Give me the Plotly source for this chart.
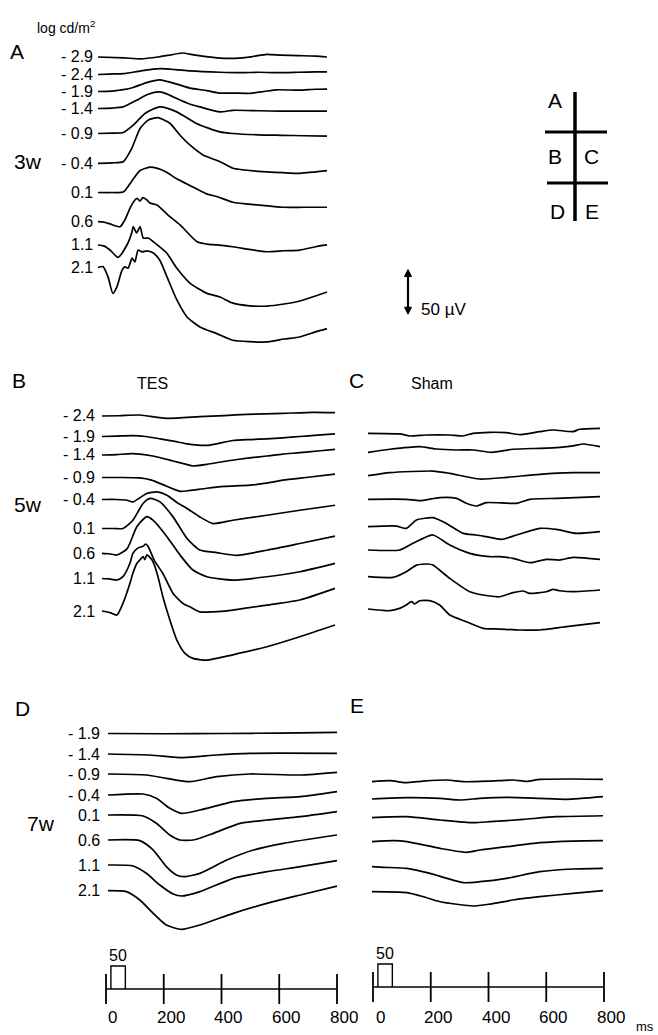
import plotly.graph_objects as go

W, H = 658, 1035
K = 44.7 / 50.0          # pixels per microvolt (from the 50 µV scale bar)
FONT = "Liberation Sans, Arial, Helvetica, sans-serif"

# ---------------- data: (time in ms, amplitude in µV relative to baseline) -------------
# Panel A : 3 weeks
A_labels = ["- 2.9", "- 2.4", "- 1.9", "- 1.4", "- 0.9", "- 0.4", "0.1", "0.6", "1.1", "2.1"]
A_m2_9 = [(0, 0), (90, -1), (150, -2), (210, 0), (250, 2), (293, 4.5), (340, 2), (415, -1), (480, -1.5),
          (540, 0.5), (590, 3), (640, 2), (700, 1.5), (760, 1), (800, 0)]
A_m2_4 = [(0, 0), (40, 0.5), (90, 1), (150, 4), (216, 6.5), (270, 5.5), (321, 4), (426, 2.5), (500, 2),
          (560, 2.5), (625, 2), (700, 2.5), (760, 3), (800, 3)]
A_m1_9 = [(0, 0), (50, 0.5), (88, 2), (123, 4.5), (170, 10), (216, 13), (275, 8.3), (321, 3.8), (380, 1),
          (426, -1.8), (471, -1.8), (530, -2), (580, 0), (625, 1.9), (700, 1.5), (760, 2.5), (800, 2.7)]
A_m1_4 = [(0, 0), (50, 0.5), (88, 1.8), (135, 9.3), (175, 16), (216, 18.6), (250, 15), (275, 11.2), (320, 5),
          (356, 1.8), (426, -3.8), (471, -2), (560, -2.5), (640, -3), (720, -3), (800, -3)]
A_m0_9 = [(0, 0), (50, 0.5), (88, 1.1), (123, 9.3), (164, 22.4), (216, 29.8), (275, 24.2), (344, 11.2),
          (426, 1.8), (471, 0), (560, -1.5), (640, -2), (720, -2.5), (800, -3)]
A_m0_4 = [(0, 0), (50, 0.5), (88, 1.8), (118, 16.8), (147, 39), (176, 48.5), (210, 51), (251, 44.8),
          (286, 31.7), (321, 20.5), (367, 9.3), (426, 1.8), (471, -5.5), (560, -9), (646, -10.5),
          (705, -11.2), (760, -9.5), (800, -8.3)]
A_p0_1 = [(0, 0), (50, 0), (88, 0.5), (123, 15), (147, 24.6), (181, 28.3), (205, 27.2), (240, 22.7),
          (275, 15.3), (321, 7.8), (379, -1.5), (420, -5), (471, -10.9), (560, -14), (646, -16.5),
          (720, -16.5), (800, -16.5)]
A_p0_6 = [(0, 0), (20, -0.5), (42, -2.5), (77, -5.6), (94, 2), (112, 15.3), (129, 24.3), (136, 26.2),
          (147, 23.2), (157, 27), (171, 24.3), (181, 21), (206, 18.7), (251, 5.6), (286, -3.4),
          (346, -22.4), (380, -25), (415, -26), (471, -28), (530, -31), (590, -33.6), (650, -32.5),
          (705, -31.7), (760, -28), (800, -26)]
A_p1_1 = [(0, 0), (20, -1), (42, -5.6), (70, -13.8), (101, 0), (119, 14.9), (123, 20.5), (135, 13.4),
          (147, 20.5), (158, 7.8), (176, 7.8), (193, 3.7), (240, -9), (275, -25.8), (321, -42.6),
          (379, -53.8), (426, -58.2), (471, -65), (530, -68), (590, -68.3), (650, -66), (705, -62.7),
          (760, -57), (800, -52.6)]
A_p2_1 = [(0, 0), (17, 1), (35, -10.5), (52, -29), (66, -21.7), (84, -3), (94, 0.7), (105, -0.8),
          (119, 10.4), (129, 6.3), (140, 19.4), (154, 17.5), (171, 18.6), (192, 16.4), (216, 8.2),
          (241, -10.5), (276, -36.6), (311, -55.3), (356, -66.5), (415, -74), (471, -81.4), (530, -83),
          (590, -83.3), (650, -80), (705, -77.7), (760, -72), (800, -68.3)]

# Panel B : 5 weeks, TES
B_labels = ["- 2.4", "- 1.9", "- 1.4", "- 0.9", "- 0.4", "0.1", "0.6", "1.1", "2.1"]
B_m2_4 = [(0, 0), (60, 0.3), (130, 1.1), (222, -2.6), (336, -0.7), (420, 0.5), (497, 1.9), (621, 3),
          (725, 4.1), (800, 3.7)]
B_m1_9 = [(0, 0), (50, 0.5), (106, 1), (150, 0), (199, -2.6), (250, -5.5), (292, -8.2), (360, -10),
          (394, -8.2), (449, -4.5), (510, -3.4), (566, -2.6), (620, -1.5), (679, 0), (740, 1.5), (800, 3)]
B_m1_4 = [(0, 0), (50, 0.5), (106, 1.5), (175, -1.1), (244, -6.7), (290, -10.5), (312, -12.3), (360, -10.4),
          (429, -6.7), (500, -3.5), (566, -1.1), (620, 1), (679, 2.6), (740, 4.5), (800, 6.4)]
B_m0_9 = [(0, 0), (60, 0), (130, -0.5), (170, -3), (209, -8), (268, -15.5), (302, -14.5), (360, -12),
          (420, -10), (508, -8.6), (570, -6), (621, -3), (700, 0), (800, 3.7)]
B_m0_4 = [(0, 0), (50, 0), (86, -0.8), (106, -2.7), (130, 2), (154, 6.7), (189, 8.5), (223, 4.8),
          (260, -4), (292, -10), (336, -19.5), (381, -26.9), (449, -23.2), (566, -17.6), (679, -12),
          (800, -6.4)]
B_p0_1 = [(0, 0), (40, 0), (72, 0), (106, 9.3), (141, 28), (165, 33.6), (199, 29.8), (244, 13),
          (292, -11.2), (336, -24), (394, -27), (463, -30), (566, -24.3), (679, -16.8), (800, -8.6)]
B_p0_6 = [(0, 0), (25, -0.5), (51, -1.9), (86, 5), (120, 30), (154, 41), (175, 37), (223, 18.6),
          (268, -2), (312, -18.7), (360, -26.2), (449, -29.9), (566, -26.2), (679, -20.6), (800, -11.2)]
B_p1_1 = [(0, 0), (25, -0.5), (51, -1.7), (72, 2), (96, 17), (106, 28), (123, 34), (141, 36),
          (150, 38.5), (158, 36), (180, 20), (209, 5.6), (244, -16.8), (278, -28), (302, -31.7),
          (336, -37.3), (381, -37.3), (449, -35.3), (566, -29.7), (679, -24), (800, -11)]
B_p2_1 = [(0, 0), (27, -1.8), (51, -4.5), (72, 8.6), (96, 31), (106, 42.2), (120, 53.4), (130, 57),
          (141, 60.8), (147, 57.5), (154, 62.7), (172, 57), (189, 42.2), (209, 16), (233, -10),
          (257, -32.5), (285, -47.4), (312, -53), (360, -55), (449, -49), (566, -40), (679, -28.8),
          (800, -15.7)]

# Panel C : 5 weeks, Sham (same intensities -1.9 ... 2.1)
C_1 = [(0, 0), (109, -0.7), (144, -3), (201, -1.9), (282, -1.9), (328, -3), (362, 0), (420, 1.1),
       (477, 0.7), (523, -1.5), (592, 1.9), (638, 3.7), (707, 1.9), (730, 4.5), (800, 5.6)]
C_2 = [(0, 0), (75, 3.4), (178, 6.3), (236, 3.7), (305, 2.6), (362, 2.6), (426, 0), (500, 3.4),
       (592, 4.5), (661, 5.6), (707, 7.1), (742, 9.3), (800, 6.3)]
C_3 = [(0, 0), (75, 3.4), (224, 5.2), (282, 2.6), (385, -3.7), (477, -1.9), (592, 1.5), (707, 3.4),
       (800, 3.4)]
C_4 = [(0, 0), (132, 0), (178, -1.5), (247, 1.9), (305, 1.1), (339, -4.5), (374, -7.5), (408, -3.7),
       (512, -4.5), (558, 0), (650, 1.1), (800, 3)]
C_5 = [(0, 0), (98, 0.7), (132, -1.9), (167, 7.5), (224, 10.1), (270, 3.7), (328, -7.5), (374, -9.3),
       (408, -11.2), (460, -14.2), (512, -9.3), (592, -1.9), (650, -3), (719, -7.5), (800, -5.6)]
C_6 = [(0, 0), (109, 0), (144, 5.6), (178, 11.2), (224, 16.8), (282, 5.6), (351, -3.7), (420, -7.5),
       (454, -7.5), (500, -9.3), (558, -14.2), (615, -10.4), (661, -11.2), (707, -8.2), (800, -10.4)]
C_7 = [(0, 0), (86, -0.7), (132, 5.6), (167, 13), (207, 14.2), (224, 13), (282, -1.9), (351, -16.8),
       (420, -21.6), (454, -22.4), (500, -17.9), (535, -16), (558, -18.7), (615, -16.8), (638, -14.2),
       (661, -15.7), (707, -16.8), (800, -14.9)]
C_8 = [(0, 0), (75, -1.9), (109, 0.7), (132, 4.5), (150, 8.2), (161, 5.6), (178, 9.3), (213, 9.3),
       (247, 4.5), (282, -6.7), (339, -14.2), (397, -21.6), (454, -22.4), (523, -23.5), (592, -23.5),
       (684, -19.8), (800, -15.3)]

# Panel D : 7 weeks, TES
D_labels = ["- 1.9", "- 1.4", "- 0.9", "- 0.4", "0.1", "0.6", "1.1", "2.1"]
D_m1_9 = [(0, 0), (200, -0.3), (400, 0), (600, 0.5), (800, 1.2)]
D_m1_4 = [(0, 0), (146, -1.1), (263, -4.1), (380, -1.1), (496, 0.7), (800, 0.7)]
D_m0_9 = [(0, 0), (134, -1.1), (204, -4.8), (286, -8.6), (380, -3), (496, 0), (672, -1.1), (800, 1.9)]
D_m0_4 = [(0, 0), (123, 1.1), (169, -3.7), (216, -14.9), (257, -20.5), (321, -16.8), (438, -7.5),
          (555, -3.7), (672, -1.9), (800, 3.7)]
D_p0_1 = [(0, 0), (123, -1.1), (169, -9.3), (216, -22.4), (251, -28), (298, -28), (368, -20.5),
          (461, -9.3), (555, -5.6), (672, -1.9), (800, 3.7)]
D_p0_6 = [(0, 0), (111, -0.7), (158, -11.2), (204, -29.8), (239, -39.2), (265, -41), (321, -37.3),
          (415, -22.4), (508, -11.2), (613, -3.7), (800, 5.6)]
D_p1_1 = [(0, 0), (88, -1.1), (134, -9.3), (181, -22.4), (228, -32.5), (257, -34.7), (321, -29.8),
          (438, -14.9), (555, -7.5), (672, -1.9), (800, 4.8)]
D_p2_1 = [(0, 0), (64, -1.1), (111, -10.4), (158, -25.3), (204, -38.4), (257, -43.3), (321, -38.4),
          (438, -25.3), (555, -14.2), (672, -4.8), (800, 5.2)]

# Panel E : 7 weeks, Sham
E_1 = [(0, 0), (63, 1.1), (115, -1.1), (178, 0.7), (259, 1.9), (317, 0), (409, 0.7), (489, 1.9),
       (535, 0.4), (581, 2.6), (696, 3), (800, 2.6)]
E_2 = [(0, 0), (121, 1.5), (236, 0.7), (305, -1.1), (374, 0.7), (466, 1.9), (581, 0.7), (673, -0.4),
       (800, 2.6)]
E_3 = [(0, 0), (121, 1.1), (236, -2.6), (351, -5.6), (409, -4.5), (524, -1.9), (639, 1.1), (800, 2.2)]
E_4 = [(0, 0), (75, 1.1), (121, 0), (236, -7.5), (328, -11.9), (374, -9.3), (466, -5.6), (581, -1.1),
       (696, 0.7), (800, 1.1)]
E_5 = [(0, 0), (40, -0.7), (121, -1.9), (201, -7.5), (259, -13), (317, -17.9), (374, -16.8), (466, -13),
       (581, -5.6), (696, -2.6), (800, -1.9)]
E_6 = [(0, 0), (121, -1.1), (178, -5.6), (236, -11.2), (351, -16), (409, -13.8), (489, -9.3), (581, -5.6),
       (696, -1.9), (800, 1.1)]

time_ticks = [0, 200, 400, 600, 800]
stim_onset = 17          # ms
stim_duration = 50       # ms
scale_uV = 50            # µV

# ---------------- layout (pixel positions) ----------------
A_rows_px = [57, 74.5, 91.5, 108.5, 133.5, 163.3, 192.5, 221.7, 245, 267.5]
B_rows_px = [416, 436.5, 455, 477.5, 499.5, 528.5, 553.3, 578.5, 611]
C_rows_px = [433.3, 452.3, 475.7, 499.3, 526.7, 550, 576.7, 609]
D_rows_px = [733.5, 754, 774, 795, 815, 840, 865, 890.7]
E_rows_px = [781.7, 799, 817.7, 841.7, 866.7, 891.7]


def px(x):
    return x / W


def py(y):
    return 1 - y / H


fig = go.Figure()
PAD = 12
annotations = []
shapes = []


def ax_key(n):
    return "" if n == 1 else str(n)


def make_axes(n, x0, x1, top, bottom, yr=None):
    sx = (x1 - x0) / 800.0
    xa = dict(domain=[px(x0 - PAD * sx), px(x1 + PAD * sx)], range=[-PAD, 800 + PAD],
              visible=False, anchor="y" + ax_key(n))
    if yr is None:
        yr = [-(bottom - top) / K, 0]
    ya = dict(domain=[py(bottom), py(top)], range=yr, visible=False, anchor="x" + ax_key(n))
    fig.update_layout(**{"xaxis" + ax_key(n): xa, "yaxis" + ax_key(n): ya})


panels = [
    (1, 98, 327, 40, 360, [A_m2_9, A_m2_4, A_m1_9, A_m1_4, A_m0_9, A_m0_4, A_p0_1, A_p0_6, A_p1_1, A_p2_1],
     A_rows_px, A_labels, 94),
    (2, 102, 335, 395, 685, [B_m2_4, B_m1_9, B_m1_4, B_m0_9, B_m0_4, B_p0_1, B_p0_6, B_p1_1, B_p2_1],
     B_rows_px, B_labels, 96),
    (3, 368, 600, 395, 685, [C_1, C_2, C_3, C_4, C_5, C_6, C_7, C_8], C_rows_px, None, None),
    (4, 108, 337, 715, 950, [D_m1_9, D_m1_4, D_m0_9, D_m0_4, D_p0_1, D_p0_6, D_p1_1, D_p2_1],
     D_rows_px, D_labels, 101),
    (5, 372, 603, 715, 950, [E_1, E_2, E_3, E_4, E_5, E_6], E_rows_px, None, None),
]

for n, x0, x1, top, bottom, series, rows, labels, lab_x in panels:
    make_axes(n, x0, x1, top, bottom)
    for i, (s, row) in enumerate(zip(series, rows)):
        off = -(row - top) / K
        fig.add_trace(go.Scatter(
            x=[p[0] for p in s], y=[off + p[1] for p in s], mode="lines",
            line=dict(color="black", width=1.7, shape="spline", smoothing=0.6),
            xaxis="x" + ax_key(n), yaxis="y" + ax_key(n), showlegend=False, hoverinfo="skip"))
        if labels:
            annotations.append(dict(text=labels[i], x=px(lab_x), xref="paper", xanchor="right",
                                    y=off, yref="y" + ax_key(n), yanchor="middle", showarrow=False,
                                    borderpad=0, font=dict(size=16, color="black", family=FONT)))

# ---------------- time scales ----------------
TICK_HALF = 15
BOX_H = 23
for n, x0, x1, line_px in [(6, 106, 337, 989), (7, 373, 604, 987)]:
    top, bottom = 945, 1010
    make_axes(n, x0, x1, top, bottom, yr=[-(bottom - line_px), line_px - top])
    xk, yk = "x" + str(n), "y" + str(n)
    fig.add_trace(go.Scatter(x=[time_ticks[0], time_ticks[-1]], y=[0, 0], mode="lines",
                             line=dict(color="black", width=1.6), xaxis=xk, yaxis=yk,
                             showlegend=False, hoverinfo="skip"))
    tx, ty = [], []
    for v in time_ticks:
        tx += [v, v, None]
        ty += [-TICK_HALF, TICK_HALF, None]
    fig.add_trace(go.Scatter(x=tx, y=ty, mode="lines", line=dict(color="black", width=1.8),
                             xaxis=xk, yaxis=yk, showlegend=False, hoverinfo="skip"))
    fig.add_trace(go.Scatter(x=[stim_onset, stim_onset, stim_onset + stim_duration, stim_onset + stim_duration],
                             y=[0, BOX_H, BOX_H, 0], mode="lines", line=dict(color="black", width=1.4),
                             xaxis=xk, yaxis=yk, showlegend=False, hoverinfo="skip"))
    annotations.append(dict(text=str(stim_duration), x=stim_onset + stim_duration / 2, xref=xk,
                            y=BOX_H, yref=yk, yanchor="bottom", showarrow=False, yshift=0,
                            font=dict(size=16, color="black", family=FONT)))
    for v in time_ticks:
        annotations.append(dict(text=str(v), x=v, xref=xk, xshift=7, y=py(1017), yref="paper",
                                yanchor="middle", showarrow=False,
                                font=dict(size=17, color="black", family=FONT)))

annotations.append(dict(text="ms", x=px(656), y=py(1026), xref="paper", yref="paper", showarrow=False,
                        xanchor="right", yanchor="middle", font=dict(size=13, color="black", family=FONT)))

# ---------------- scale bar (50 µV) drawn in panel A units ----------------
sb_top = -(269.5 - 40) / K
sb_bot = sb_top - scale_uV
head = 7.0 / K            # arrow head length (µV units of panel A)
hw = 3.5 / W              # arrow head half width (paper)
xb = px(408)
shapes.append(dict(type="line", xref="paper", yref="y", x0=xb, x1=xb, y0=sb_top - head * 0.5,
                   y1=sb_bot + head * 0.5, line=dict(color="black", width=2.2)))
shapes.append(dict(type="path", xref="paper", yref="y", fillcolor="black", line=dict(color="black", width=1),
                   path=f"M {xb},{sb_top} L {xb - hw},{sb_top - head} L {xb + hw},{sb_top - head} Z"))
shapes.append(dict(type="path", xref="paper", yref="y", fillcolor="black", line=dict(color="black", width=1),
                   path=f"M {xb},{sb_bot} L {xb - hw},{sb_bot + head} L {xb + hw},{sb_bot + head} Z"))
annotations.append(dict(text="50 µV", x=px(419), y=py(298), xref="paper", yref="paper", xanchor="left",
                        showarrow=False, font=dict(size=17, color="black", family=FONT)))


# ---------------- text labels ----------------
def txt(t, x, y, size, anchor="center"):
    annotations.append(dict(text=t, x=px(x), y=py(y), xref="paper", yref="paper", xanchor=anchor,
                            yanchor="middle", showarrow=False,
                            font=dict(size=size, color="black", family=FONT)))


txt("log cd/m<sup>2</sup>", 66, 27, 14)
txt("A", 17, 52, 21)
txt("3w", 28, 162, 21)
txt("B", 19, 381, 21)
txt("TES", 152, 383, 16)
txt("C", 357, 381, 21)
txt("Sham", 432, 383, 16)
txt("5w", 28, 505, 21)
txt("D", 22, 708, 21)
txt("E", 357, 705, 21)
txt("7w", 41, 823, 21)

# key
for t, x, y in [("A", 555, 101), ("B", 555, 157), ("C", 591, 157), ("D", 557, 212), ("E", 592, 212)]:
    txt(t, x, y, 21)
shapes.append(dict(type="line", xref="paper", yref="paper", x0=px(575), x1=px(575), y0=py(92), y1=py(221),
                   line=dict(color="black", width=3.5)))
shapes.append(dict(type="line", xref="paper", yref="paper", x0=px(545), x1=px(607), y0=py(132), y1=py(132),
                   line=dict(color="black", width=3.2)))
shapes.append(dict(type="line", xref="paper", yref="paper", x0=px(547), x1=px(608), y0=py(183), y1=py(183),
                   line=dict(color="black", width=3.2)))

fig.update_layout(width=W, height=H, margin=dict(l=0, r=0, t=0, b=0), paper_bgcolor="white",
                  plot_bgcolor="white", showlegend=False, annotations=annotations, shapes=shapes,
                  font=dict(family=FONT, color="black"))
fig.write_html("out.html")
